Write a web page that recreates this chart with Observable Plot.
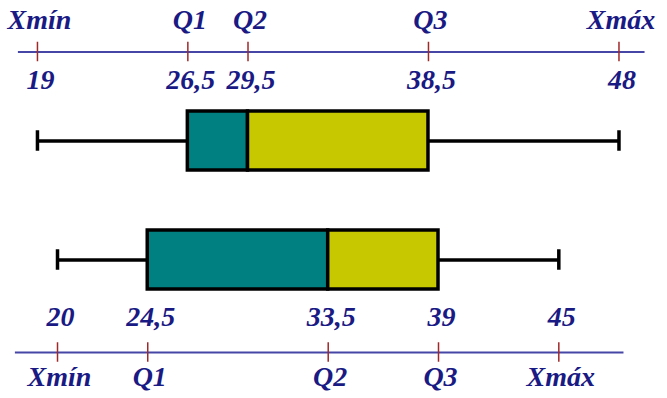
<!DOCTYPE html>
<html>
<head>
<meta charset="utf-8">
<script src="https://cdn.jsdelivr.net/npm/d3@7"></script>
<script src="https://cdn.jsdelivr.net/npm/@observablehq/plot@0.6"></script>
<style>
  html, body { margin: 0; padding: 0; background: #fff; }
  #chart svg text { font-family: "Liberation Serif", "Times New Roman", "DejaVu Serif", serif !important; font-style: italic; font-weight: bold; }
</style>
</head>
<body>
<div id="chart"></div>
<script>
// Data
const groups = ["A", "B"];
const statNames = ["Xmín", "Q1", "Q2", "Q3", "Xmáx"];
const mins = [19, 20];
const q1s = [26.5, 24.5];
const q2s = [29.5, 33.5];
const q3s = [38.5, 39];
const maxs = [48, 45];
const tickLabelsA = ["19", "26,5", "29,5", "38,5", "48"];
const tickLabelsB = ["20", "24,5", "33,5", "39", "45"];
const axisStart = [18.05, 17.9];
const axisEnd = [49.3, 48.25];

const stats = groups.map((g, i) => ({
  group: g, min: mins[i], q1: q1s[i], q2: q2s[i], q3: q3s[i], max: maxs[i],
  a0: axisStart[i], a1: axisEnd[i]
}));
const tickLabels = [tickLabelsA, tickLabelsB];
const ticks = groups.flatMap((g, i) => {
  const vals = [mins[i], q1s[i], q2s[i], q3s[i], maxs[i]];
  return vals.map((v, j) => ({group: g, value: v, name: statNames[j], label: tickLabels[i][j]}));
});
const ticksA = ticks.filter(d => d.group === "A");
const ticksB = ticks.filter(d => d.group === "B");
const statA = stats.filter(d => d.group === "A");
const statB = stats.filter(d => d.group === "B");

const teal = "#008080";
const yellow = "#c8c800";
const textColor = "#1a1a84";
const axisColor = "#4646a6";
const tickColor = "#a02828";
const font = {fontFamily: "Liberation Serif", fontSize: 28, fontStyle: "italic", fontWeight: "bold", fill: textColor, textAnchor: "middle", lineAnchor: "bottom"};

const boxInset = 30;
const capInset = 49.25;
const axisTickInset = 49.75;

const chart = Plot.plot({
  width: 667,
  height: 398,
  margin: 0,
  style: {background: "#fff", overflow: "visible"},
  x: {type: "linear", domain: [17.157, 50.42], axis: null},
  y: {type: "band", domain: groups, range: [80.25, 319.25], padding: 0, axis: null},
  marks: [
    // axis lines
    Plot.ruleY(statA, {y: "group", x1: "a0", x2: "a1", dy: -89, stroke: axisColor, strokeWidth: 2}),
    Plot.ruleY(statB, {y: "group", x1: "a0", x2: "a1", dy: 92.5, stroke: axisColor, strokeWidth: 2}),
    // axis ticks
    Plot.tickX(ticksA, {x: "value", y: "group", dy: -89, insetTop: axisTickInset, insetBottom: axisTickInset, stroke: tickColor, strokeWidth: 1.5}),
    Plot.tickX(ticksB, {x: "value", y: "group", dy: 92.5, insetTop: axisTickInset, insetBottom: axisTickInset, stroke: tickColor, strokeWidth: 1.5}),
    // labels top axis
    Plot.text(ticksA, {x: "value", y: "group", text: "name", dy: -112, dx: 2, ...font}),
    Plot.text(ticksA, {x: "value", y: "group", text: "label", dy: -52, dx: 3, ...font}),
    // labels bottom axis
    Plot.text(ticksB, {x: "value", y: "group", text: "label", dy: 65.5, dx: 3, ...font}),
    Plot.text(ticksB, {x: "value", y: "group", text: "name", dy: 126, dx: 2, ...font}),
    // whiskers
    Plot.ruleY(stats, {y: "group", x1: "min", x2: "max", stroke: "#000", strokeWidth: 3.5}),
    Plot.tickX(stats, {x: "min", y: "group", insetTop: capInset, insetBottom: capInset, stroke: "#000", strokeWidth: 3.5}),
    Plot.tickX(stats, {x: "max", y: "group", insetTop: capInset, insetBottom: capInset, stroke: "#000", strokeWidth: 3.5}),
    // boxes
    Plot.barX(stats, {y: "group", x1: "q1", x2: "q2", fill: teal, stroke: "#000", strokeWidth: 3.5, insetTop: boxInset, insetBottom: boxInset, insetLeft: 0, insetRight: 0}),
    Plot.barX(stats, {y: "group", x1: "q2", x2: "q3", fill: yellow, stroke: "#000", strokeWidth: 3.5, insetTop: boxInset, insetBottom: boxInset, insetLeft: 0, insetRight: 0})
  ]
});
document.getElementById("chart").appendChild(chart);
</script>
</body>
</html>
